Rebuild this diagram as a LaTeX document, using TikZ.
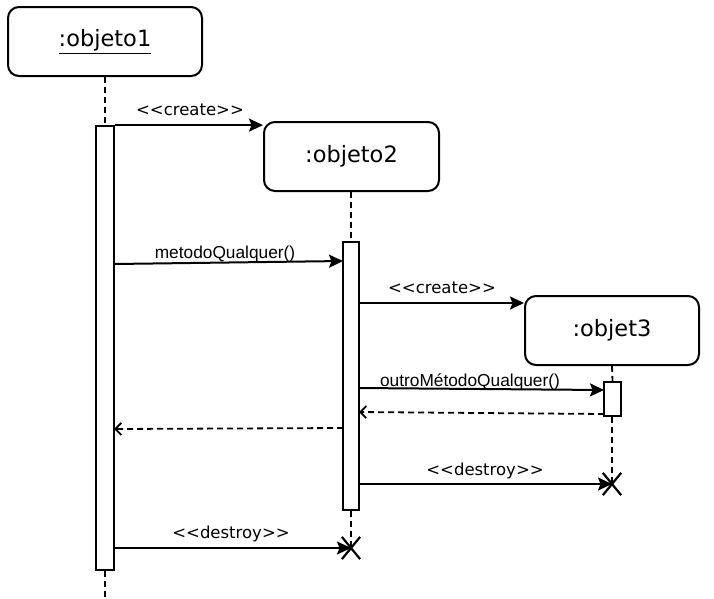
\documentclass[tikz,border=0pt]{standalone}
\usepackage{fontspec}
\usetikzlibrary{arrows.meta,shapes.misc}
\newfontfamily\dvfont{DejaVu Sans}
\newfontfamily\arfont{Liberation Sans}
\tikzset{
  objbox/.style={draw, line width=2pt, rounded corners=11pt, font=\dvfont\fontsize{22.5}{26}\selectfont},
  actbox/.style={draw, line width=1.8pt, fill=white, inner sep=0pt},
  lifeline/.style={line width=1.8pt, dash pattern=on 6pt off 4pt},
  msg/.style={line width=2pt, -{Stealth[length=14pt,width=13pt,inset=2.5pt]}},
  ret/.style={line width=1.8pt, dash pattern=on 6pt off 4pt, -{Straight Barb[length=6pt,width=12pt,line width=1.8pt]}},
  stlbl/.style={font=\dvfont\fontsize{16.5}{20}\selectfont, anchor=base, inner sep=0pt},
  mlbl/.style={font=\arfont\fontsize{17.3}{20}\selectfont, anchor=base, inner sep=0pt},
  killmark/.style={draw, cross out, line width=2.2pt, minimum width=16pt, minimum height=20pt, inner sep=0pt},
}
\begin{document}
\begin{tikzpicture}[x=1pt,y=-1pt]
\useasboundingbox (0,0) rectangle (714,598);

% object heads
\node[objbox, minimum width=194pt, minimum height=69pt] (o1) at (105,41.5) {\underline{:objeto1}};
\node[objbox, minimum width=175pt, minimum height=69pt] (o2) at (351.5,156.5) {:objeto2};
\node[objbox, minimum width=174pt, minimum height=69pt] (o3) at (612,330.5) {:objet3};

% activation bars
\node[actbox, minimum width=18pt, minimum height=444pt] (a1) at (105,348) {};
\node[actbox, minimum width=16pt, minimum height=268pt] (a2) at (351,376) {};
\node[actbox, minimum width=17pt, minimum height=34pt] (a3) at (612.5,399) {};

% ends of lifelines
\coordinate (end1) at (105,598);
\node[killmark] (x2) at (351,548) {};
\node[killmark] (x3) at (612,484) {};

% lifelines
\draw[lifeline] (o1.south) -- (a1.north);
\draw[lifeline] (a1.south) -- (end1);
\draw[lifeline] (o2.south -| a2.north) -- (a2.north);
\draw[lifeline] (a2.south) -- (x2.center);
\draw[lifeline] (o3.south) -- (a3.north);
\draw[lifeline] (a3.south -| x3) -- (x3.center);

% message end points
\coordinate (m1s) at (114,264);
\coordinate (m1e) at (343,261);
\coordinate (c2s) at (359,303);
\coordinate (m2s) at (359,388);
\coordinate (m2e) at (604,390);
\coordinate (r1s) at (604,414);
\coordinate (r1e) at (359,412);
\coordinate (r2s) at (343,428);
\coordinate (r2e) at (114,429);
\coordinate (d1s) at (359,484);
\coordinate (d2s) at (114,548);

% messages
\draw[msg] (a1.north east) -- (a1.north east -| o2.west);
\node[stlbl] (l1) at (190,115) {<{}<create>{}>};

\draw[msg] (m1s) -- (m1e);
\node[mlbl] (l2) at (225,258) {metodoQualquer()};

\draw[msg] (c2s) -- (c2s -| o3.west);
\node[stlbl] (l3) at (442,293) {<{}<create>{}>};

\draw[msg] (m2s) -- (m2e);
\node[mlbl] (l4) at (470,386) {outroMétodoQualquer()};

\draw[ret] (r1s) -- (r1e);
\draw[ret] (r2s) -- (r2e);

\draw[msg] (d1s) -- (x3.center);
\node[stlbl] (l5) at (485,475) {<{}<destroy>{}>};

\draw[msg] (d2s) -- (x2.center);
\node[stlbl] (l6) at (231,538) {<{}<destroy>{}>};
\end{tikzpicture}
\end{document}
